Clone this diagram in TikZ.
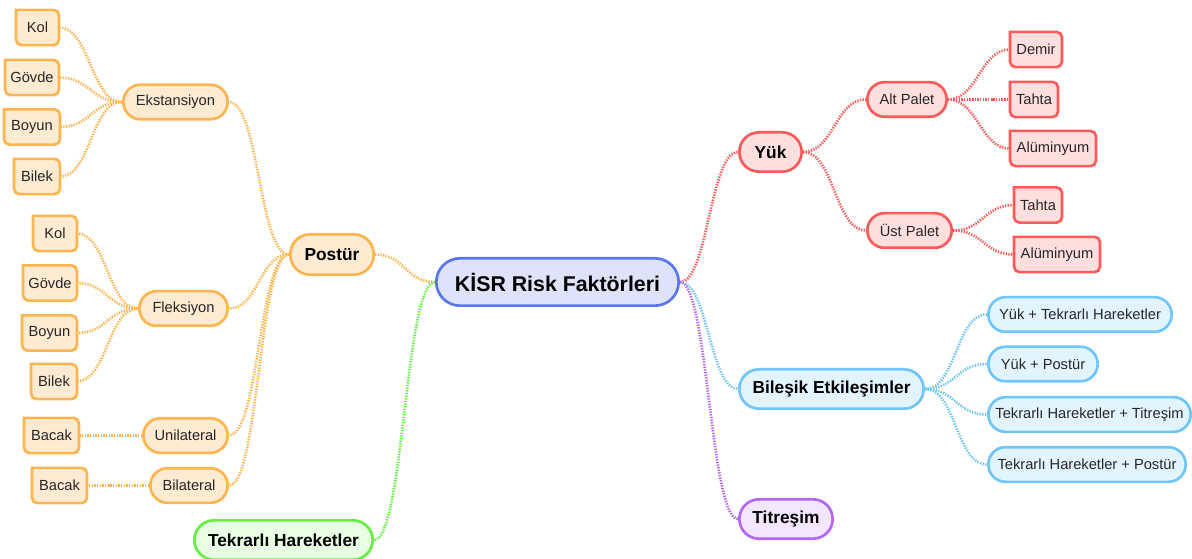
\documentclass[tikz,border=0pt]{standalone}
\usepackage{fontspec}
\setmainfont{Liberation Sans}
\usetikzlibrary{backgrounds}
\definecolor{orB}{HTML}{FFB54F}
\definecolor{orF}{HTML}{FFEAD2}
\definecolor{rdB}{HTML}{FF5A5A}
\definecolor{rdF}{HTML}{FFDEDE}
\definecolor{blB}{HTML}{5B74F0}
\definecolor{blF}{HTML}{DEE3FA}
\definecolor{cyB}{HTML}{70C5FA}
\definecolor{cyF}{HTML}{E1F4FF}
\definecolor{puB}{HTML}{B466F5}
\definecolor{puF}{HTML}{F3E6FF}
\definecolor{grB}{HTML}{66EE44}
\definecolor{grF}{HTML}{E8FFE3}
\definecolor{txt}{HTML}{262626}
\tikzset{
  nbase/.style={inner xsep=1pt, inner ysep=0pt, align=center},
  nsmall/.style={nbase, font=\fontsize{11}{13}\selectfont, minimum height=26pt, text=txt},
  npill/.style={nsmall, draw=#1B, fill=#1F, line width=2pt, rounded corners=12.9pt},
  nleaf/.style={nsmall},
  nlvl/.style={nbase, font=\bfseries\fontsize{13}{15}\selectfont, minimum height=29.5pt, draw=#1B, fill=#1F, line width=2pt, rounded corners=14.7pt, text=black},
  nroot/.style={nbase, font=\bfseries\fontsize{16}{18}\selectfont, minimum height=35.5pt, draw=blB, fill=blF, line width=2pt, rounded corners=17.7pt, text=black},
  nconn/.style={draw=#1B, line width=2pt, dash pattern=on 1pt off 1pt},
}
\newcommand\lnkR[4]{\draw[nconn=#1] (#2) .. controls +(#4,0) and +(-#4,0) .. (#3);}
\newcommand\lnkL[4]{\draw[nconn=#1] (#2) .. controls +(-#4,0) and +(#4,0) .. (#3);}
\newcommand\leafbg[2]{\draw[draw=#2B, fill=#2F, line width=2pt] (#1.north west) -- ([xshift=-4pt]#1.north east) arc[start angle=90,end angle=0,radius=4pt] -- ([yshift=4pt]#1.south east) arc[start angle=0,end angle=-90,radius=4pt] -- ([xshift=4pt]#1.south west) arc[start angle=-90,end angle=-180,radius=4pt] -- cycle;}
\begin{document}
\begin{tikzpicture}[x=0.75pt,y=-0.75pt]
\useasboundingbox (0,0) rectangle (1192,559);
% root
\node[nroot, minimum width=181.75pt] (root) at (557.5,282) {KİSR Risk Faktörleri};
% left branch
\node[nlvl=or, minimum width=62.5pt, minimum height=30.25pt] (postur) at (332,254.5) {Postür};
\node[nlvl=gr, minimum width=133.75pt] (tekrar) at (283.5,540) {Tekrarlı Hareketler};
\node[npill=or, minimum width=78.25pt] (eks) at (175.5,102) {Ekstansiyon};
\node[npill=or, minimum width=66.25pt] (flek) at (183.5,308.5) {Fleksiyon};
\node[npill=or, minimum width=63.25pt] (uni) at (185.5,435.5) {Unilateral};
\node[npill=or, minimum width=58pt] (bil) at (189,485.5) {Bilateral};
\node[nleaf, minimum width=31.75pt] (kolA) at (37.5,27.5) {Kol};
\node[nleaf, minimum width=40pt] (govA) at (32,77.5) {Gövde};
\node[nleaf, minimum width=41.5pt] (boyA) at (32,127) {Boyun};
\node[nleaf, minimum width=34pt] (bilA) at (37,176.5) {Bilek};
\node[nleaf, minimum width=32.5pt] (kolB) at (55,233.5) {Kol};
\node[nleaf, minimum width=40pt] (govB) at (50,283) {Gövde};
\node[nleaf, minimum width=40.75pt] (boyB) at (49.5,333) {Boyun};
\node[nleaf, minimum width=34pt] (bilB) at (54,381.5) {Bilek};
\node[nleaf, minimum width=40.75pt] (bacU) at (51.5,435.5) {Bacak};
\node[nleaf, minimum width=40.75pt] (bacB) at (59.5,485.5) {Bacak};
% right branch
\node[nlvl=rd, minimum width=46.75pt] (yuk) at (770.5,152) {Yük};
\node[npill=rd, minimum width=59.5pt] (alt) at (907,99.5) {Alt Palet};
\node[npill=rd, minimum width=63.25pt] (ust) at (909.5,230.5) {Üst Palet};
\node[nleaf, minimum width=38.5pt] (demir) at (1036,49.5) {Demir};
\node[nleaf, minimum width=35.5pt] (tahA) at (1034,99.5) {Tahta};
\node[nleaf, minimum width=64pt] (aluA) at (1053,148.5) {Alüminyum};
\node[nleaf, minimum width=35.5pt] (tahB) at (1038,205) {Tahta};
\node[nleaf, minimum width=64pt] (aluB) at (1057,254.5) {Alüminyum};
\node[nlvl=cy, minimum width=138.25pt] (bilesik) at (831.5,389) {Bileşik Etkileşimler};
\node[npill=cy, minimum width=137.5pt] (b1) at (1080,314.5) {Yük + Tekrarlı Hareketler};
\node[npill=cy, minimum width=82pt] (b2) at (1043,364) {Yük + Postür};
\node[npill=cy, minimum width=151.75pt] (b3) at (1089.5,414.5) {Tekrarlı Hareketler + Titreşim};
\node[npill=cy, minimum width=148pt] (b4) at (1087,464.5) {Tekrarlı Hareketler + Postür};
\node[nlvl=pu, minimum width=70pt] (titresim) at (786,519) {Titreşim};
\begin{pgfonlayer}{background}
% connectors
\lnkL{or}{root.west}{postur.east}{30}
\lnkL{gr}{root.west}{tekrar.east}{30}
\lnkL{or}{postur.west}{eks.east}{30}
\lnkL{or}{postur.west}{flek.east}{30}
\lnkL{or}{postur.west}{uni.east}{30}
\lnkL{or}{postur.west}{bil.east}{30}
\lnkL{or}{eks.west}{kolA.east}{31}
\lnkL{or}{eks.west}{govA.east}{31}
\lnkL{or}{eks.west}{boyA.east}{31}
\lnkL{or}{eks.west}{bilA.east}{31}
\lnkL{or}{flek.west}{kolB.east}{30}
\lnkL{or}{flek.west}{govB.east}{30}
\lnkL{or}{flek.west}{boyB.east}{30}
\lnkL{or}{flek.west}{bilB.east}{30}
\lnkL{or}{uni.west}{bacU.east}{30}
\lnkL{or}{bil.west}{bacB.east}{30}
\lnkR{rd}{root.east}{yuk.west}{28}
\lnkR{cy}{root.east}{bilesik.west}{28}
\lnkR{pu}{root.east}{titresim.west}{28}
\lnkR{rd}{yuk.east}{alt.west}{31}
\lnkR{rd}{yuk.east}{ust.west}{31}
\lnkR{rd}{alt.east}{demir.west}{30}
\lnkR{rd}{alt.east}{tahA.west}{30}
\lnkR{rd}{alt.east}{aluA.west}{30}
\lnkR{rd}{ust.east}{tahB.west}{30}
\lnkR{rd}{ust.east}{aluB.west}{30}
\lnkR{cy}{bilesik.east}{b1.west}{31}
\lnkR{cy}{bilesik.east}{b2.west}{31}
\lnkR{cy}{bilesik.east}{b3.west}{31}
\lnkR{cy}{bilesik.east}{b4.west}{31}
% leaf shapes
\leafbg{kolA}{or}\leafbg{govA}{or}\leafbg{boyA}{or}\leafbg{bilA}{or}
\leafbg{kolB}{or}\leafbg{govB}{or}\leafbg{boyB}{or}\leafbg{bilB}{or}
\leafbg{bacU}{or}\leafbg{bacB}{or}
\leafbg{demir}{rd}\leafbg{tahA}{rd}\leafbg{aluA}{rd}\leafbg{tahB}{rd}\leafbg{aluB}{rd}
\end{pgfonlayer}
\end{tikzpicture}
\end{document}
